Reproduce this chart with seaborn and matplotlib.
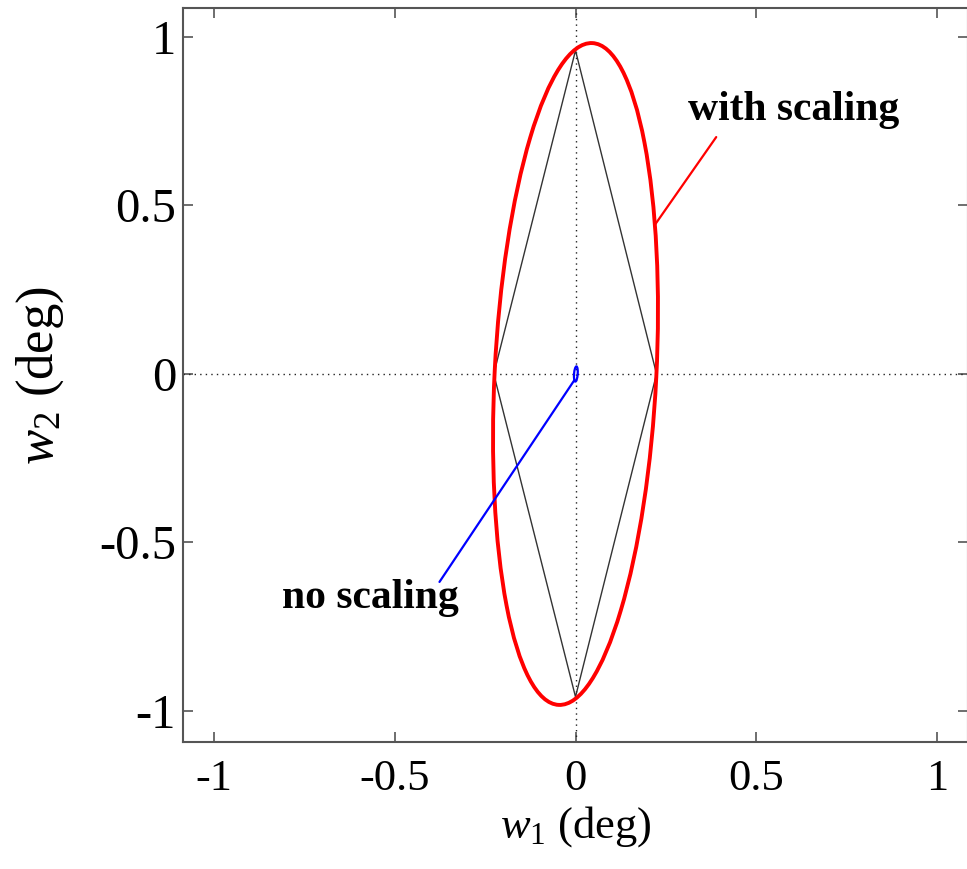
import matplotlib
matplotlib.use("Agg")
import matplotlib.pyplot as plt
from matplotlib.patches import Ellipse
import seaborn as sns
import pandas as pd

# ---- data ----
diamond_w1 = [0.0, 0.224, 0.0, -0.226, 0.0]
diamond_w2 = [0.96, 0.0, -0.958, 0.0, 0.96]

# ellipse traced "with scaling" (centre, full width, full height, tilt in deg)
scaled_center = (0.0, 0.0)
scaled_width = 0.447
scaled_height = 1.966
scaled_angle = -2.7

# tiny ellipse traced "no scaling"
unscaled_center = (0.001, 0.0)
unscaled_width = 0.010
unscaled_height = 0.045
unscaled_angle = -4.0

# leader lines
with_leader_w1 = [0.221, 0.389]
with_leader_w2 = [0.445, 0.703]
no_leader_w1 = [-0.003, -0.376]
no_leader_w2 = [-0.018, -0.617]

label_with = "with scaling"
label_with_pos = (0.602, 0.783)
label_no = "no scaling"
label_no_pos = (-0.566, -0.665)

xticks = [-1, -0.5, 0, 0.5, 1]
yticks = [-1, -0.5, 0, 0.5, 1]
xticklabels = ["-1", "-0.5", "0", "0.5", "1"]
yticklabels = ["-1", "-0.5", "0", "0.5", "1"]

# ---- style ----
sns.set_theme(style="ticks")
plt.rcParams["font.family"] = ["Liberation Serif", "DejaVu Serif"]
plt.rcParams["mathtext.fontset"] = "custom"
plt.rcParams["mathtext.rm"] = "Liberation Serif"
plt.rcParams["mathtext.it"] = "Liberation Serif:italic"

fig = plt.figure(figsize=(9.67, 8.69), dpi=100)
ax = fig.add_axes([183 / 967, 1 - 742 / 869, (968 - 183) / 967, (742 - 8) / 869])

# dotted zero lines
ax.axhline(0, color="#222222", lw=1.0, ls=(0, (1, 3)), zorder=1)
ax.axvline(0, color="#222222", lw=1.0, ls=(0, (1, 3)), zorder=1)

# diamond
diamond = pd.DataFrame({"w1": diamond_w1, "w2": diamond_w2})
sns.lineplot(data=diamond, x="w1", y="w2", sort=False, estimator=None,
             color="#333333", lw=1.0, ax=ax, zorder=2)

# ellipses
ax.add_patch(Ellipse(scaled_center, scaled_width, scaled_height, angle=scaled_angle,
                     fill=False, edgecolor="#ff0000", lw=2.8, zorder=3))
ax.add_patch(Ellipse(unscaled_center, unscaled_width, unscaled_height, angle=unscaled_angle,
                     fill=False, edgecolor="#0000ff", lw=1.6, zorder=4))

# leader lines
sns.lineplot(x=with_leader_w1, y=with_leader_w2, sort=False, estimator=None,
             color="#ff0000", lw=1.6, ax=ax, zorder=3)
sns.lineplot(x=no_leader_w1, y=no_leader_w2, sort=False, estimator=None,
             color="#0000ff", lw=1.6, ax=ax, zorder=4)

ax.text(*label_with_pos, label_with, fontsize=30, fontweight="bold",
        ha="center", va="center", color="black")
ax.text(*label_no_pos, label_no, fontsize=30, fontweight="bold",
        ha="center", va="center", color="black")

ax.set_xlim(-1.085, 1.085)
ax.set_ylim(-1.092, 1.086)
ax.set_xticks(xticks)
ax.set_xticklabels(xticklabels)
ax.set_yticks(yticks)
ax.set_yticklabels(yticklabels)
ax.tick_params(axis="x", direction="in", length=7, width=1.2, color="#555555",
               top=True, labelsize=32, pad=12, labelcolor="black")
ax.tick_params(axis="y", direction="in", length=7, width=1.2, color="#555555",
               right=True, labelsize=35, pad=5, labelcolor="black")
for s in ax.spines.values():
    s.set_color("#555555")
    s.set_linewidth(1.5)

ax.set_xlabel(r"$w_1$ (deg)", fontsize=32, labelpad=4, color="black")
ax.set_ylabel(r"$w_2$ (deg)", fontsize=38, labelpad=24, color="black")

fig.savefig("out.png", dpi=100)
